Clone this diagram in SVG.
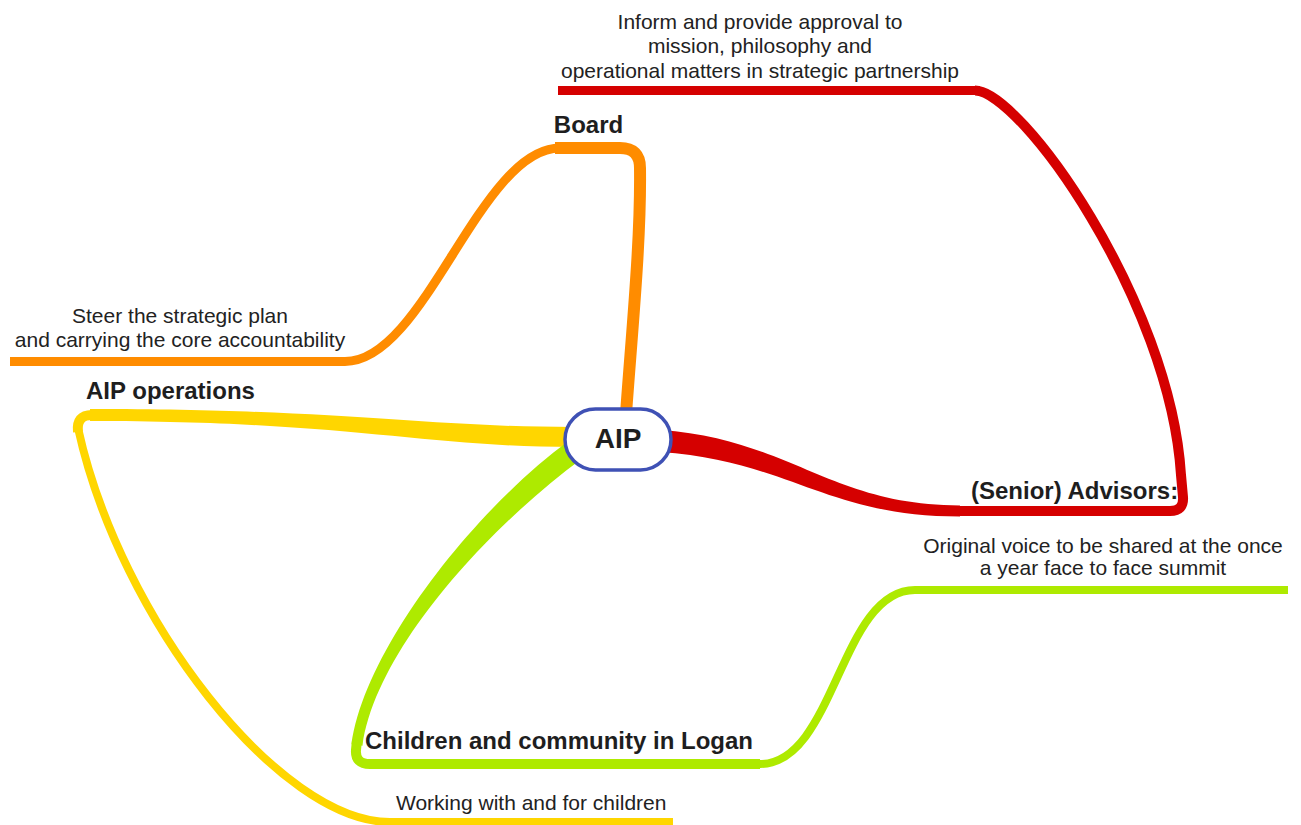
<svg xmlns="http://www.w3.org/2000/svg" width="1301" height="825" viewBox="0 0 1301 825">
  <style>
    .lbl { font-family: "Liberation Sans", Arial, sans-serif; font-size: 21px; fill: #222222; }
    .topic { font-family: "Liberation Sans", Arial, sans-serif; font-size: 24px; font-weight: bold; fill: #1e1e1e; }
    .center { font-family: "Liberation Sans", Arial, sans-serif; font-size: 28px; font-weight: bold; fill: #1e1e1e; }
    .br { fill: none; stroke-linecap: butt; stroke-linejoin: round; }
    .orange { stroke: #FF8C00; }
    .red { stroke: #D50000; }
    .yellow { stroke: #FFD600; }
    .green { stroke: #AEEA00; }
  </style>
  <rect width="1301" height="825" fill="#ffffff"/>

  <g id="connectors">
    <!-- Board branch -->
    <path class="br orange" stroke-width="12" d="M626,414 C632,330 641,240 640,168 Q640,148 620,148 L555,148"/>
    <path class="br orange" stroke-width="9" d="M560,148 C480,148 425,361.5 345,361.5 L10,361.5"/>

    <!-- Senior Advisors branch -->
    <path fill="#D50000" d="M660,430 C790,439 830,505.5 960,505.5 L960,516.5 C825,516.5 790,461 660,452 Z"/>
    <path class="br red" stroke-width="10" d="M955,511 L1170,511 Q1184,511 1183,497 L1181,475 C1170,300 1020,90.5 975,90.5"/>
    <path class="br red" stroke-width="9" d="M980,90.5 L558,90.5"/>

    <!-- AIP operations branch -->
    <path fill="#FFD600" d="M575,427 C420,427 350,409 90,409 L90,421 C350,421 420,447 575,447 Z"/>
    <path class="br yellow" stroke-width="10" d="M92,415 Q76,415 78,432"/>
    <path class="br yellow" stroke-width="8" d="M78,428 C120,620 280,822 390,822 L673,822"/>

    <!-- Children and community branch -->
    <path fill="#AEEA00" d="M568.5,441 C473.5,511 364.5,649.3 351.5,744.3 L362.5,745.7 C375.5,650.7 486.5,529 581.5,459 Z"/>
    <path class="br green" stroke-width="10" d="M357,740 L356,750 Q355,764 370,764 L760,764"/>
    <path class="br green" stroke-width="8" d="M755,764 L760,764 C835,764 840,590 915,590 L1288,590"/>
  </g>

  <g id="node-aip">
    <rect x="565" y="409" width="106" height="61" rx="30.5" ry="30.5" fill="#ffffff" stroke="#3F51B5" stroke-width="3.5"/>
    <text class="center" x="618" y="448" text-anchor="middle">AIP</text>
  </g>

  <g id="node-board">
    <text class="topic" x="588.5" y="133" text-anchor="middle">Board</text>
  </g>
  <g id="node-board-note">
    <text class="lbl" x="180" y="323" text-anchor="middle">Steer the strategic plan</text>
    <text class="lbl" x="180" y="347" text-anchor="middle">and carrying the core accountability</text>
  </g>

  <g id="node-advisors">
    <text class="topic" x="971" y="499">(Senior) Advisors:</text>
  </g>
  <g id="node-advisors-note">
    <text class="lbl" x="760" y="29" text-anchor="middle">Inform and provide approval to</text>
    <text class="lbl" x="760" y="53" text-anchor="middle">mission, philosophy and</text>
    <text class="lbl" x="760" y="77.5" text-anchor="middle">operational matters in strategic partnership</text>
  </g>

  <g id="node-operations">
    <text class="topic" x="86" y="399">AIP operations</text>
  </g>
  <g id="node-operations-note">
    <text class="lbl" x="396" y="810">Working with and for children</text>
  </g>

  <g id="node-children">
    <text class="topic" x="365" y="749">Children and community in Logan</text>
  </g>
  <g id="node-children-note">
    <text class="lbl" x="1103" y="553" text-anchor="middle">Original voice to be shared at the once</text>
    <text class="lbl" x="1103" y="575" text-anchor="middle">a year face to face summit</text>
  </g>
</svg>
